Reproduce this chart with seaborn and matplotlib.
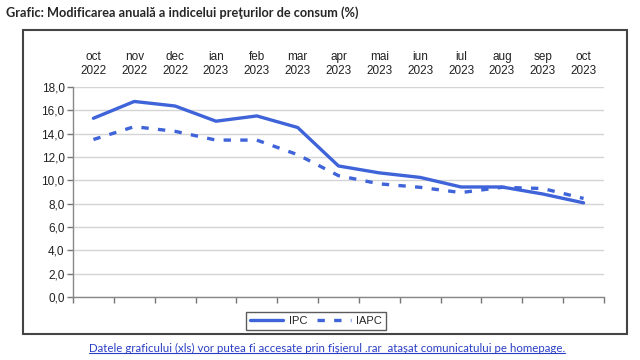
import pandas as pd
import numpy as np
import matplotlib.pyplot as plt
import seaborn as sns
from matplotlib.patches import Rectangle
from matplotlib.lines import Line2D
from matplotlib.ticker import FuncFormatter

months = ["oct\n2022", "nov\n2022", "dec\n2022", "ian\n2023", "feb\n2023", "mar\n2023",
          "apr\n2023", "mai\n2023", "iun\n2023", "iul\n2023", "aug\n2023", "sep\n2023", "oct\n2023"]
ipc = [15.32, 16.76, 16.37, 15.07, 15.52, 14.53, 11.23, 10.64, 10.25, 9.43, 9.43, 8.83, 8.07]
iapc = [13.5, 14.6, 14.2, 13.45, 13.45, 12.2, 10.4, 9.7, 9.4, 8.95, 9.4, 9.3, 8.45]

df = pd.DataFrame({
    "pos": list(range(len(months))) * 2,
    "val": ipc + iapc,
    "serie": ["IPC"] * len(months) + ["IAPC"] * len(months),
})

sns.set_style("white")
plt.rcParams["font.family"] = ["Liberation Sans", "DejaVu Sans"]

fig = plt.figure(figsize=(6.4, 3.6), dpi=100)
ax = fig.add_axes([73 / 640, 1 - 297 / 360, (604 - 73) / 640, (297 - 87) / 360])

blue = "#3f63d8"
sns.lineplot(data=df, x="pos", y="val", hue="serie", style="serie",
             palette={"IPC": blue, "IAPC": blue},
             dashes={"IPC": "", "IAPC": (2.2, 2.8)},
             linewidth=2.4, ax=ax, legend=False)

ax.set_xlim(-0.5, len(months) - 0.5)
ax.set_ylim(0, 18)
ax.set_yticks(np.arange(0, 18.1, 2))
ax.yaxis.set_major_formatter(FuncFormatter(lambda v, p: f"{v:.1f}".replace(".", ",")))
ax.yaxis.grid(True, color="#d4d4d4", linewidth=1)
ax.set_xlabel("")
ax.set_ylabel("")

# bottom: tick marks between categories, no labels
ax.set_xticks(np.arange(-0.5, len(months), 1))
ax.set_xticklabels([])
ax.tick_params(axis="x", bottom=True, length=4, color="#777777", width=1)
ax.tick_params(axis="y", left=True, length=4, color="#777777", width=1,
               labelsize=8.5, labelcolor="#222222", pad=2)

for s in ["top", "right"]:
    ax.spines[s].set_visible(False)
for s in ["left", "bottom"]:
    ax.spines[s].set_color("#888888")
    ax.spines[s].set_linewidth(1)

# month labels on top
top = ax.secondary_xaxis("top")
top.set_xticks(range(len(months)))
top.set_xticklabels(months, fontsize=8.5, color="#222222", linespacing=1.25)
top.tick_params(length=0, pad=7)
top.spines["top"].set_visible(False)

# legend
handles = [Line2D([], [], color=blue, lw=2.4, label="IPC"),
           Line2D([], [], color=blue, lw=2.4, dashes=(2.2, 2.8), label="IAPC")]
leg = fig.legend(handles=handles, loc="center", bbox_to_anchor=(316 / 640, 1 - 321 / 360),
                 ncol=2, fontsize=8, frameon=True, fancybox=False, handlelength=3.0,
                 columnspacing=0.9, borderpad=0.35, handletextpad=0.5)
leg.get_frame().set_edgecolor("#333333")
leg.get_frame().set_linewidth(1)

# outer border
fig.patches.append(Rectangle((23 / 640, 1 - 334 / 360), (627 - 23) / 640, (334 - 30) / 360,
                             transform=fig.transFigure, fill=False, edgecolor="#444444",
                             linewidth=1.5))

fig.text(6 / 640, 1 - 13 / 360, "Grafic: Modificarea anuală a indicelui preţurilor de consum (%)",
         fontsize=9.2, fontweight="bold", family=["Lato", "DejaVu Sans"], va="center", ha="left")

note = fig.text(327 / 640, 1 - 348 / 360,
                "Datele graficului (xls) vor putea fi accesate prin fişierul .rar  ataşat comunicatului pe homepage.",
                fontsize=8.3, color="#2b3fc4", family=["Lato", "DejaVu Sans"], va="center", ha="center")
fig.canvas.draw()
bb = note.get_window_extent().transformed(fig.transFigure.inverted())
fig.add_artist(Line2D([bb.x0, bb.x1], [bb.y0 + 0.002, bb.y0 + 0.002], color="#2b3fc4",
                      lw=0.8, transform=fig.transFigure))

fig.savefig("out.png", dpi=100)
